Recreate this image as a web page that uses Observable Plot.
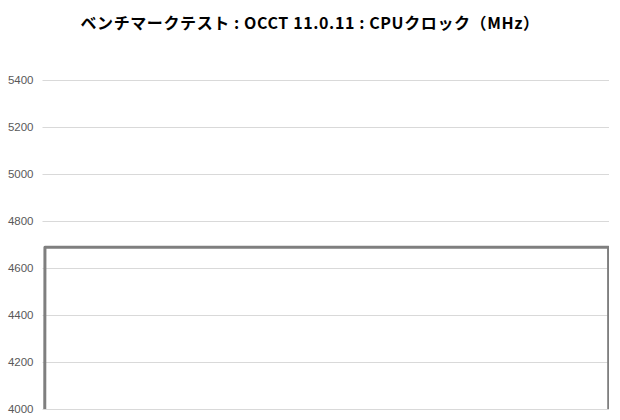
<!DOCTYPE html>
<html><head><meta charset="utf-8">
<script src="https://cdn.jsdelivr.net/npm/d3@7"></script>
<script src="https://cdn.jsdelivr.net/npm/@observablehq/plot@0.6"></script>
<style>
body{margin:0;background:#fff;}
#title{height:40px;line-height:44px;text-align:center;font-family:"Noto Sans CJK JP",sans-serif;font-weight:bold;font-size:16px;letter-spacing:0.6px;color:#000;width:620px;}
</style></head>
<body>
<div id="title">ベンチマークテスト : OCCT 11.0.11 : CPUクロック（MHz）</div>
<div id="chart"></div>
<script>
const times = [0, 1, 60, 120, 180, 240, 300, 360, 420, 480, 540, 599, 600];
const clocks = [800, 4690, 4690, 4690, 4690, 4690, 4690, 4690, 4690, 4690, 4690, 4690, 800];
const yTicks = [4000, 4200, 4400, 4600, 4800, 5000, 5200, 5400];
const data = times.map((t, i) => ({t, v: clocks[i]}));

const chart = Plot.plot({
  width: 620, height: 380,
  marginTop: 40, marginBottom: 11, marginLeft: 43, marginRight: 11,
  insetLeft: 0.5,
  style: {fontFamily: "'Liberation Sans', Arial, sans-serif", fontSize: "11.5px", color: "#595959", background: "#fff"},
  x: {axis: null, domain: [0, 600]},
  y: {domain: [4000, 5400], ticks: yTicks, tickSize: 0, tickPadding: 10, label: null, tickFormat: d => String(d)},
  marks: [
    Plot.ruleY(yTicks, {stroke: "#d9d9d9", strokeWidth: 1, insetLeft: -0.5}),
    Plot.lineY(data, {x: "t", y: "v", stroke: "#7f7f7f", strokeWidth: 3, clip: true})
  ]
});
document.getElementById("chart").appendChild(chart);
</script>
</body></html>
